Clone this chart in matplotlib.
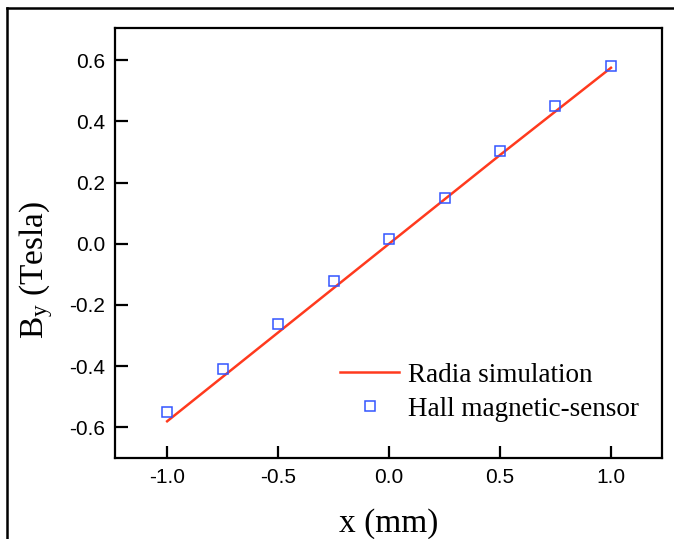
import matplotlib.pyplot as plt
from matplotlib.lines import Line2D

# Hall sensor measurements
hall_x = [-1.0, -0.75, -0.5, -0.25, 0.0, 0.25, 0.5, 0.75, 1.0]
hall_y = [-0.55, -0.41, -0.262, -0.123, 0.016, 0.149, 0.302, 0.451, 0.581]

# Radia simulation (straight line)
sim_x = [-1.0, -0.5, 0.0, 0.5, 1.0]
sim_y = [-0.58, -0.29, 0.0, 0.29, 0.575]

xticks = [-1.0, -0.5, 0.0, 0.5, 1.0]
yticks = [-0.6, -0.4, -0.2, 0.0, 0.2, 0.4, 0.6]

plt.rcParams['font.family'] = 'Liberation Sans'
plt.rcParams['mathtext.fontset'] = 'custom'
plt.rcParams['mathtext.rm'] = 'Liberation Serif'
plt.rcParams['mathtext.it'] = 'Liberation Serif'

fig = plt.figure(figsize=(6.74, 5.39), dpi=100)
ax = fig.add_axes([115/674, 1-458/539, 547/674, 430/539])

ax.plot(sim_x, sim_y, color='#ff3a1e', lw=1.8, label='Radia simulation')
ax.plot(hall_x, hall_y, ls='none', marker='s', ms=7.5, mfc='none', mec='#3355ff',
        mew=1.1, label='Hall magnetic-sensor')

ax.set_xlim(-1.235, 1.23)
ax.set_ylim(-0.7, 0.705)
ax.set_xticks(xticks)
ax.set_yticks(yticks)
ax.set_xticklabels([f'{v:.1f}' for v in xticks])
ax.set_yticklabels([f'{v:.1f}' for v in yticks])
ax.tick_params(direction='in', length=9, width=1.6, labelsize=15, pad=7)
for s in ax.spines.values():
    s.set_linewidth(1.6)

ax.set_xlabel('x (mm)', fontsize=24, family='Liberation Serif')
ax.xaxis.set_label_coords(0.5, -0.117)
ax.set_ylabel(r'$\mathregular{B_y}$ (Tesla)', fontsize=24, family='Liberation Serif')
ax.yaxis.set_label_coords(-0.11, 0.437)

ax.legend(loc='upper left', bbox_to_anchor=(0.411, 0.221), frameon=False,
          prop={'family': 'Liberation Serif', 'size': 19.5}, handlelength=2.2,
          handletextpad=0.3, borderpad=0, borderaxespad=0, labelspacing=0.33)

# page frame
fig.add_artist(Line2D([6.5/674, 1], [1-7.5/539, 1-7.5/539], color='black', lw=1.8))
fig.add_artist(Line2D([6.5/674, 6.5/674], [0, 1-7.5/539], color='black', lw=1.8))

fig.savefig('out.png', dpi=100)
